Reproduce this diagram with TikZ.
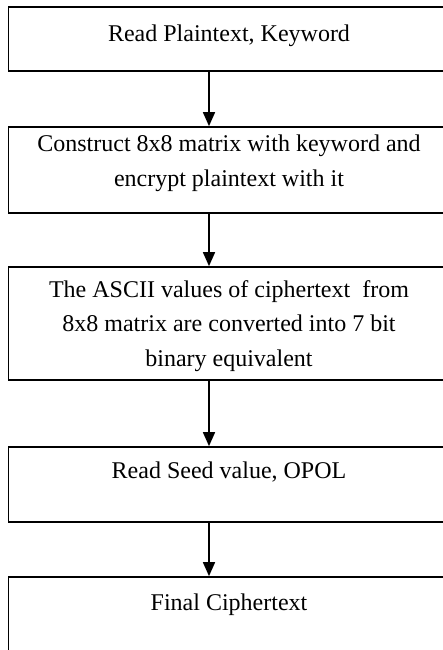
\documentclass[tikz,border=0pt]{standalone}
\usepackage{fontspec}
\setmainfont{Liberation Serif}
\usetikzlibrary{positioning,calc,arrows.meta}

\tikzset{
    stepbox/.style={draw, line width=1.7pt, minimum width=441pt, inner sep=0pt},
    steptext/.style={anchor=base, align=center, inner sep=0pt,
        font=\fontsize{24}{34.5}\selectfont},
    flowarrow/.style={line width=1.6pt, -{Triangle[width=12pt,length=14pt]}}
}

\begin{document}
\begin{tikzpicture}[x=1pt, y=1pt]
    \useasboundingbox (0,0) rectangle (443,-650);
    \clip (0,0) rectangle (443,-650);
    % boxes
    \node[stepbox, minimum height=64pt]  (read)  at (229,-39)    {};
    \node[stepbox, minimum height=86pt]  (build) at (229,-170)   {};
    \node[stepbox, minimum height=113pt] (conv)  at (229,-323.5) {};
    \node[stepbox, minimum height=75pt]  (seed)  at (229,-484.5) {};
    \node[stepbox, minimum height=103pt] (final) at (229,-628.5) {};
    % texts (base = last line)
    \node[steptext] (readtxt)  at ([yshift=-35pt]read.north)  {Read Plaintext, Keyword};
    \node[steptext] (buildtxt) at ([yshift=-60pt]build.north) {Construct 8x8 matrix with keyword and\\encrypt plaintext with it};
    \node[steptext] (convtxt)  at ([yshift=-100pt]conv.north) {The ASCII values of ciphertext\ \ from\\8x8 matrix are converted into 7 bit\\binary equivalent};
    \node[steptext] (seedtxt)  at ([yshift=-32pt]seed.north)  {Read Seed value, OPOL};
    \node[steptext] (finaltxt) at ([yshift=-34pt]final.north) {Final Ciphertext};
    % arrows
    \foreach \a/\b in {read/build, build/conv, conv/seed, seed/final}{
        \draw[flowarrow] ([xshift=-20pt]\a.south) -- ([xshift=-20pt]\b.north);
    }
\end{tikzpicture}
\end{document}
